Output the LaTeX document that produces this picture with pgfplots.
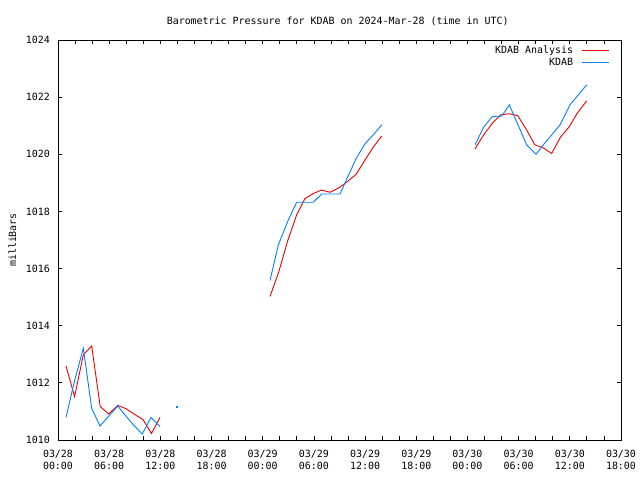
\documentclass[border=0pt]{standalone}
\usepackage{fontspec}
\setmainfont{DejaVu Sans Mono}
\usepackage{pgfplots}
\pgfplotsset{compat=1.18}
\definecolor{kred}{RGB}{235,0,0}
\definecolor{kblue}{RGB}{0,128,255}
\begin{document}
\fontsize{10}{12}\selectfont
\begin{tikzpicture}
\path[use as bounding box] (-58bp,-40bp) rectangle (582bp,440bp);
\begin{axis}[
  at={(0,0)}, anchor=south west,
  scale only axis, width=563bp, height=400bp,
  xmin=0, xmax=66, ymin=1010, ymax=1024,
  axis line style={line width=0.8bp},
  xtick={0,6,...,66},
  minor xtick={0,2,...,66},
  ytick={1010,1012,...,1024},
  major tick length=4bp, minor tick length=4bp,
  every tick/.style={black, line width=0.8bp},
  tick align=inside,
  xticklabels={{03/28\\00:00},{03/28\\06:00},{03/28\\12:00},{03/28\\18:00},{03/29\\00:00},{03/29\\06:00},{03/29\\12:00},{03/29\\18:00},{03/30\\00:00},{03/30\\06:00},{03/30\\12:00},{03/30\\18:00}},
  xticklabel style={align=center, font=\fontsize{10}{12}\selectfont, yshift=-6.5bp},
  yticklabel style={font=\fontsize{10}{12}\selectfont, xshift=-4.5bp},
  /pgf/number format/assume math mode=true,
  /pgf/number format/.cd, 1000 sep={}, /pgfplots/.cd,
  unbounded coords=jump,
]
\addplot[color=kred, line width=0.9bp] coordinates {
(0.94,1012.59) (1.94,1011.52) (2.97,1012.98) (3.95,1013.29) (4.95,1011.17) (5.95,1010.91) (7.0,1011.21) (7.96,1011.1) (8.96,1010.9) (9.95,1010.72) (10.96,1010.23) (11.96,1010.79)
(20,nan)
(24.85,1015.02) (25.9,1015.9) (26.9,1016.95) (27.98,1017.88) (28.95,1018.45) (29.95,1018.63) (30.91,1018.75) (31.89,1018.67) (32.95,1018.83) (33.95,1019.05) (34.95,1019.3) (35.99,1019.8) (36.96,1020.25) (37.95,1020.64)
(44,nan)
(48.89,1020.19) (49.9,1020.68) (50.9,1021.08) (51.9,1021.38) (52.9,1021.42) (53.9,1021.35) (54.9,1020.87) (55.9,1020.33) (56.9,1020.22) (57.88,1020.03) (58.9,1020.6) (59.9,1020.95) (60.9,1021.45) (61.98,1021.87)
};
\addplot[color=kblue, line width=0.9bp] coordinates {
(0.94,1010.79) (1.94,1012.07) (2.97,1013.21) (3.95,1011.11) (4.92,1010.49) (5.94,1010.83) (7.0,1011.19) (7.96,1010.84) (8.96,1010.49) (9.88,1010.21) (10.90,1010.79) (11.96,1010.47)
(20,nan)
(24.85,1015.58) (25.83,1016.83) (27.0,1017.70) (27.98,1018.32) (28.95,1018.32) (29.93,1018.32) (30.91,1018.61) (31.95,1018.61) (33.06,1018.61) (33.95,1019.2) (34.95,1019.85) (35.99,1020.37) (36.96,1020.68) (37.95,1021.03)
(44,nan)
(48.89,1020.33) (49.9,1020.95) (50.91,1021.32) (52.02,1021.34) (52.91,1021.73) (53.9,1021.05) (54.95,1020.33) (56.04,1020.0) (56.89,1020.33) (57.88,1020.68) (58.85,1021.03) (60.02,1021.73) (61.0,1022.08) (61.98,1022.43)
};
\addplot[kblue, only marks, mark=square*, mark size=0.5bp] coordinates {(13.92,1011.18)};
\end{axis}
\node[anchor=base] at (279.7bp,415bp) {Barometric Pressure for KDAB on 2024-Mar-28 (time in UTC)};
\node[rotate=90] at (-45.5bp,200bp) {milliBars};
% legend
\node[anchor=base east, inner sep=0pt] at (515.3bp,386bp) {KDAB Analysis};
\draw[kred, line width=0.9bp] (523.7bp,389.3bp) -- (551.3bp,389.3bp);
\node[anchor=base east, inner sep=0pt] at (515.3bp,374.5bp) {KDAB};
\draw[kblue, line width=0.9bp] (523.7bp,378bp) -- (551.3bp,378bp);
\end{tikzpicture}
\end{document}
